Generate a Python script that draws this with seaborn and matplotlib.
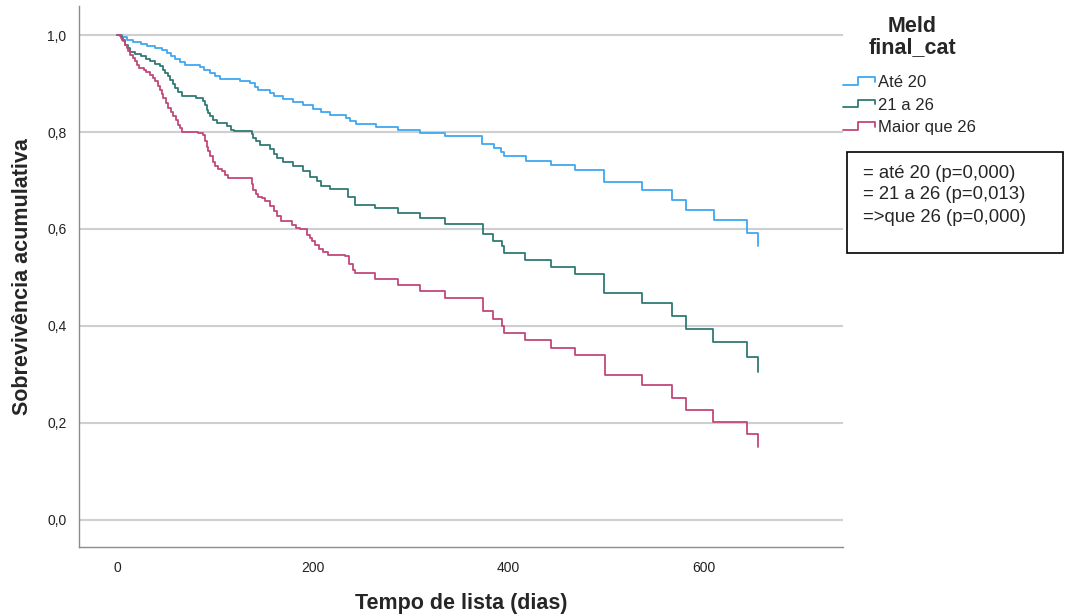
import numpy as np
import pandas as pd
import seaborn as sns
import matplotlib
matplotlib.use("Agg")
import matplotlib.pyplot as plt
from matplotlib.lines import Line2D
from matplotlib.patches import Rectangle
from matplotlib.legend_handler import HandlerBase
from matplotlib.ticker import FuncFormatter

# curvas de Kaplan-Meier (dias, sobrevivencia apos o evento)
tempo_ate20 = [0, 5, 10, 16, 24, 31, 39, 46, 51, 55, 59, 64, 69, 85, 89, 95, 100, 105,
               126, 136, 141, 144, 156, 160, 170, 180, 190, 200, 208, 218, 234, 238, 244,
               265, 287, 310, 335, 373, 385, 392, 395, 418, 444, 468, 498, 537, 567, 581,
               610, 644, 655]
sobrev_ate20 = [1.0, 0.996, 0.990, 0.986, 0.981, 0.977, 0.973, 0.969, 0.963, 0.957, 0.951,
                0.944, 0.938, 0.934, 0.928, 0.922, 0.916, 0.909, 0.905, 0.901, 0.893, 0.887,
                0.881, 0.874, 0.868, 0.862, 0.856, 0.848, 0.842, 0.835, 0.829, 0.823, 0.817,
                0.811, 0.805, 0.798, 0.791, 0.776, 0.767, 0.758, 0.751, 0.741, 0.732, 0.722,
                0.696, 0.680, 0.660, 0.640, 0.618, 0.592, 0.564]

tempo_21a26 = [0, 3, 5, 8, 11, 13, 18, 24, 29, 34, 39, 44, 47, 49, 52, 54, 57, 59, 62, 66,
               81, 88, 90, 92, 93, 95, 98, 102, 112, 116, 119, 138, 139, 142, 146, 156, 160,
               163, 170, 180, 190, 197, 204, 208, 218, 236, 243, 264, 287, 310, 335, 374,
               384, 393, 395, 417, 444, 468, 498, 537, 567, 581, 609, 644, 655]
sobrev_21a26 = [1.0, 0.998, 0.990, 0.980, 0.973, 0.966, 0.961, 0.956, 0.951, 0.946, 0.940,
                0.936, 0.928, 0.922, 0.916, 0.908, 0.899, 0.891, 0.883, 0.874, 0.870, 0.864,
                0.856, 0.846, 0.840, 0.833, 0.825, 0.819, 0.812, 0.805, 0.803, 0.796, 0.788,
                0.782, 0.774, 0.764, 0.755, 0.746, 0.739, 0.729, 0.719, 0.708, 0.698, 0.689,
                0.683, 0.667, 0.650, 0.643, 0.634, 0.623, 0.611, 0.590, 0.576, 0.564, 0.551,
                0.536, 0.522, 0.507, 0.468, 0.447, 0.420, 0.393, 0.366, 0.335, 0.304]

tempo_maior26 = [0, 4, 6, 8, 10, 11, 13, 16, 18, 20, 22, 27, 30, 34, 37, 39, 42, 44, 46, 47,
                 50, 52, 55, 57, 60, 62, 64, 66, 83, 88, 90, 92, 93, 95, 98, 100, 103, 107,
                 110, 113, 138, 139, 142, 144, 148, 151, 156, 160, 163, 168, 179, 183, 187,
                 194, 197, 199, 202, 206, 210, 216, 233, 237, 241, 243, 264, 287, 310, 335,
                 374, 384, 393, 395, 417, 444, 468, 499, 537, 567, 581, 609, 644, 655]
sobrev_maior26 = [1.0, 0.994, 0.987, 0.979, 0.973, 0.967, 0.959, 0.953, 0.946, 0.938, 0.932,
                  0.929, 0.924, 0.918, 0.912, 0.905, 0.895, 0.887, 0.879, 0.870, 0.860, 0.850,
                  0.842, 0.833, 0.825, 0.815, 0.809, 0.801, 0.798, 0.794, 0.782, 0.770, 0.761,
                  0.750, 0.739, 0.729, 0.724, 0.719, 0.712, 0.705, 0.693, 0.681, 0.673, 0.667,
                  0.663, 0.657, 0.647, 0.638, 0.626, 0.616, 0.609, 0.603, 0.599, 0.588, 0.582,
                  0.575, 0.568, 0.558, 0.552, 0.547, 0.544, 0.527, 0.516, 0.510, 0.496, 0.484,
                  0.472, 0.458, 0.431, 0.414, 0.400, 0.386, 0.371, 0.355, 0.340, 0.298, 0.278,
                  0.252, 0.227, 0.202, 0.177, 0.150]

grupos = ["Até 20", "21 a 26", "Maior que 26"]
cores = ["#3ea8f0", "#2f7b73", "#c2487a"]
textos_p = ["= até 20 (p=0,000)", "= 21 a 26 (p=0,013)", "=>que 26 (p=0,000)"]
x_ticks = [0, 200, 400, 600]
y_ticks = [0.0, 0.2, 0.4, 0.6, 0.8, 1.0]


class StepHandler(HandlerBase):
    # icone em degrau como na legenda do SPSS
    def create_artists(self, legend, orig_handle, xdescent, ydescent, width, height,
                       fontsize, trans):
        xs = np.array([0.0, 0.45, 0.45, 1.0, 1.0]) * width - xdescent
        ys = np.array([0.2, 0.2, 0.85, 0.85, 0.45]) * height - ydescent
        line = Line2D(xs, ys, color=orig_handle.get_color(), lw=1.3)
        line.set_transform(trans)
        return [line]


def build_df():
    partes = []
    for g, t, s in zip(grupos, [tempo_ate20, tempo_21a26, tempo_maior26],
                       [sobrev_ate20, sobrev_21a26, sobrev_maior26]):
        partes.append(pd.DataFrame({"tempo": t, "sobrev": s, "grupo": g}))
    return pd.concat(partes, ignore_index=True)


df = build_df()

sns.set_style("white")
plt.rcParams["font.family"] = ["Liberation Sans", "DejaVu Sans"]

fig = plt.figure(figsize=(10.72, 6.16), dpi=100)
ax = fig.add_axes([79 / 1072, 1 - 547 / 616, (843 - 79) / 1072, (547 - 6) / 616])

sns.lineplot(data=df, x="tempo", y="sobrev", hue="grupo", hue_order=grupos,
             palette=cores, estimator=None, sort=True, drawstyle="steps-post",
             lw=1.3, legend=False, ax=ax)

ax.set_xlim(-39, 742)
ax.set_ylim(-0.056, 1.06)
ax.set_xticks(x_ticks)
ax.set_yticks(y_ticks)
ax.yaxis.set_major_formatter(FuncFormatter(lambda v, p: f"{v:.1f}".replace(".", ",")))
ax.grid(axis="y", color="#cfcfcf", lw=1.5)
ax.grid(axis="x", visible=False)
ax.set_axisbelow(True)
sns.despine(ax=ax)
for lado in ["left", "bottom"]:
    ax.spines[lado].set_color("#8c8c8c")
    ax.spines[lado].set_linewidth(1.0)
ax.tick_params(axis="both", length=0, labelsize=10, colors="#222222")
ax.tick_params(axis="x", pad=10)
ax.tick_params(axis="y", pad=9)

ax.set_xlabel("Tempo de lista (dias)", fontsize=15.5, fontweight="bold", labelpad=13)
ax.set_ylabel("Sobrevivência acumulativa", fontsize=15.5, fontweight="bold", labelpad=10)

# titulo da legenda
fig.text(912 / 1072, 1 - 37 / 616, "Meld\nfinal_cat", fontsize=15.5, fontweight="bold",
         ha="center", va="center", multialignment="center", linespacing=0.95)

handles = [Line2D([], [], color=c) for c in cores]
fig.legend(handles, grupos, loc="upper left", bbox_to_anchor=(840 / 1072, 1 - 72 / 616),
           frameon=False, fontsize=12, borderaxespad=0,
           handler_map={Line2D: StepHandler()}, handlelength=1.9,
           handletextpad=0.18, labelspacing=0.44, borderpad=0.2)

# caixa com os valores de p
fig.patches.append(Rectangle((847 / 1072, 1 - 253 / 616), (1063 - 847) / 1072, 101 / 616,
                             transform=fig.transFigure, fill=False, ec="black", lw=1.2))
for i, txt in enumerate(textos_p):
    fig.text(863 / 1072, 1 - (173 + 22 * i) / 616, txt, fontsize=13.3, va="center")

fig.savefig("out.png", dpi=100)
